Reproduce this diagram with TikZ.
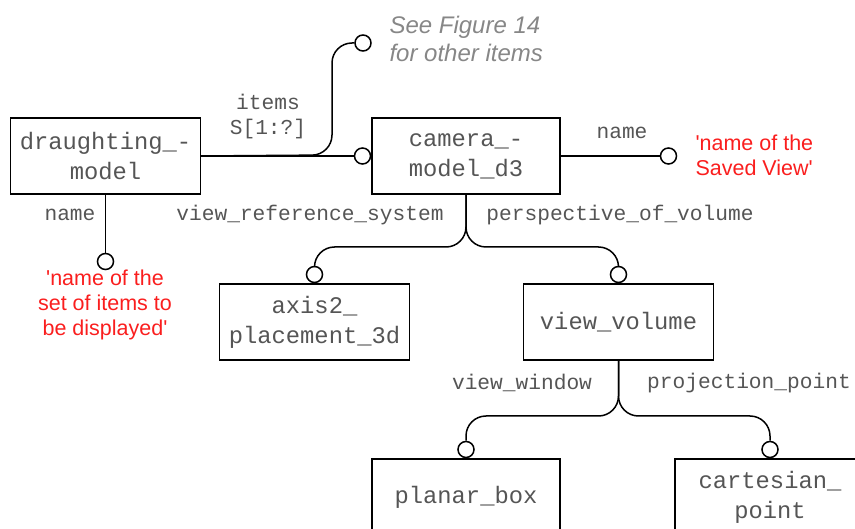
\documentclass[tikz,border=0pt]{standalone}
\usepackage{fontspec}
\setmainfont{Liberation Sans}
\setmonofont{Liberation Mono}
\usepackage{xcolor}
\usepackage{tikz}
\usetikzlibrary{shapes,arrows,positioning,calc}
\definecolor{notered}{RGB}{250,30,30}
\definecolor{notegray}{RGB}{135,135,135}
\definecolor{textgray}{RGB}{85,85,85}

\begin{document}
\begin{tikzpicture}[x=1pt, y=-1pt,
    entity/.style={rectangle, draw, line width=1.5pt, minimum width=190pt, minimum height=76pt, align=center, text=textgray, font=\fontsize{23.8}{30}\selectfont\ttfamily},
    ring/.style={circle, draw, line width=1.5pt, fill=white, minimum size=16pt, inner sep=0pt},
    link/.style={line width=1.5pt, rounded corners=20pt},
    role/.style={text=textgray, font=\fontsize{21.2}{25}\selectfont\ttfamily, align=center},
    note/.style={text=notered, font=\fontsize{21.5}{25}\selectfont, align=center},
    seenote/.style={text=notegray, font=\fontsize{24}{28}\selectfont\itshape, align=left}
]
\useasboundingbox (0,0) rectangle (855,529);

\node[entity] (dm) at (105.5,156) {draughting\_-\\model};
\node[entity, minimum width=188pt] (cam) at (466,156) {camera\_-\\model\_d3};
\node[entity] (ax) at (314.5,322) {axis2\_\\placement\_3d};
\node[entity] (vv) at (618.5,322) {view\_volume};
\node[entity, minimum width=188pt] (pb) at (466,497) {planar\_box};
\node[entity] (cp) at (770,497) {cartesian\_\\point};

\node[ring, left=0pt of cam] (camin) {};
\node[ring, above=0pt of ax] (axin) {};
\node[ring, above=0pt of vv] (vvin) {};
\node[ring, above=0pt of pb] (pbin) {};
\node[ring, above=0pt of cp] (cpin) {};
\node[ring, below=58pt of dm] (dmname) {};
\node[ring, right=99pt of cam] (camname) {};
\node[ring] (others) at (363,43) {};

\coordinate (itemsfork) at (332,155);
\coordinate (camfork) at (466,247);
\coordinate (vvfork) at (618.5,416);

\draw[link] (dm.east) -- (camin);
\draw[link] (dm.east) -- (itemsfork) |- (others.west);
\draw[link] (dm.south) -- (dmname.north);
\draw[link] (cam.east) -- (camname.west);
\draw[link] (cam.south) -- (camfork) -| (axin.north);
\draw[link] (cam.south) -- (camfork) -| (vvin.north);
\draw[link] (vv.south) -- (vvfork) -| (pbin.north);
\draw[link] (vv.south) -- (vvfork) -| (cpin.north);

\node[role] (itemslbl) at (268,117) {items\\S[1:?]};
\node[role] (dmnamelbl) at (70,215) {name};
\node[role] (camnamelbl) at (622,133) {name};
\node[role] (vrslbl) at (310,215) {view\_reference\_system};
\node[role] (povlbl) at (620,215) {perspective\_of\_volume};
\node[role] (vwlbl) at (522,383) {view\_window};
\node[role] (pplbl) at (749,383) {projection\_point};

\node[note] (dmnote) at (105,305) {\textquotesingle name of the\\set of items to\\be displayed\textquotesingle};
\node[note, anchor=west, align=left] (camnote) at (692,155) {\textquotesingle name of the\\Saved View\textquotesingle};
\node[seenote, anchor=west] (seefig) at (386,39) {See Figure 14\\for other items};

\end{tikzpicture}
\end{document}
